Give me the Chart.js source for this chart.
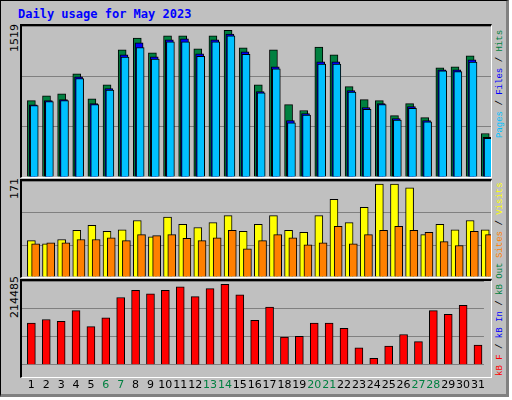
<!DOCTYPE html>
<html><head><meta charset="utf-8">
<script src="https://cdn.jsdelivr.net/npm/chart.js@4"></script>
<style>
body{margin:0;background:#fff;}
#frame{position:absolute;left:0;top:0;width:509px;height:397px;background:#c0c0c0;border:1px solid #000;border-right:3px solid #808080;border-bottom:3px solid #808080;box-sizing:border-box;}
.p{position:absolute;left:20px;width:472px;border-top:2px solid #000;border-left:2px solid #000;border-right:1px solid #fff;border-bottom:1px solid #fff;box-sizing:border-box;}
canvas{position:absolute;}
.t{position:absolute;font-family:"DejaVu Sans Mono",monospace;font-size:12px;white-space:nowrap;}
.r{position:absolute;transform-origin:0 0;transform:rotate(-90deg);font-family:"Liberation Mono",monospace;font-size:9px;line-height:10px;white-space:nowrap;}
.l{position:absolute;transform-origin:0 0;transform:rotate(-90deg);font-family:"DejaVu Sans",sans-serif;font-size:11px;line-height:12px;white-space:nowrap;}
</style></head><body>
<div id="frame"></div>
<div class="t" style="left:18px;top:7px;color:#0000ff;font-weight:bold;">Daily usage for May 2023</div>
<div class="p" style="top:24px;height:154px;"></div>
<div class="p" style="top:179px;height:99px;"></div>
<div class="p" style="top:279px;height:99px;"></div>
<canvas id="c1" style="left:22px;top:26px;width:469px;height:151px"></canvas>
<canvas id="c2" style="left:22px;top:181px;width:469px;height:96px"></canvas>
<canvas id="c3" style="left:22px;top:281px;width:469px;height:117px"></canvas>
<div class="l" style="left:9px;top:52px;">1519</div>
<div class="l" style="left:9px;top:199px;">171</div>
<div class="l" style="left:9px;top:318px;">214485</div>
<div class="r" style="left:495px;top:138px;"><span style="color:#00c0ff">Pages</span> / <span style="color:#0000ff">Files</span> / <span style="color:#008040">Hits</span></div>
<div class="r" style="left:495px;top:258px;"><span style="color:#ff8000">Sites</span> / <span style="color:#ffff00">Visits</span></div>
<div class="r" style="left:495px;top:376px;"><span style="color:#ff0000">kB F</span> / <span style="color:#0000ff">kB In</span> / <span style="color:#008040">kB Out</span></div>
<script>
const days=[1,2,3,4,5,6,7,8,9,10,11,12,13,14,15,16,17,18,19,20,21,22,23,24,25,26,27,28,29,30,31];
const weekend=[6,7,13,14,20,21,27,28];
const hits=[790,841,862,1069,810,955,1316,1439,1285,1460,1460,1326,1460,1519,1336,955,1316,749,688,1346,1264,935,801,790,635,759,615,1130,1141,1254,450];
const files=[748,790,801,1038,760,914,1264,1388,1244,1419,1429,1274,1419,1480,1295,883,1141,585,657,1192,1192,894,719,760,605,729,585,1110,1110,1213,410];
const pages=[740,780,790,1020,750,900,1240,1340,1220,1400,1400,1250,1400,1460,1270,870,1120,560,640,1170,1170,880,700,750,590,710,570,1100,1090,1190,400];
const visits=[67,61,69,86,95,84,87,104,74,110,97,91,100,113,84,97,113,86,82,113,143,100,128,171,171,164,78,97,87,104,87];
const sites=[61,63,63,69,69,72,67,78,76,78,71,67,72,86,52,67,78,72,59,63,93,61,78,86,93,86,82,65,58,84,78];
const kbytes=[111157,120551,115854,144035,101763,125248,179261,198048,188655,198048,207442,181609,202745,214485,186306,118203,153429,73583,75932,111157,111157,97066,45402,17222,50099,80629,61841,144035,134641,158126,52448];
const maxes=[1563,176.6,223100];

function pts(arr){return arr.map((v,i)=>({x:days[i],y:v}));}
function xs(id,shift,show){
  return {type:'linear',display:show||false,min:0.5-shift,max:31.5-shift,offset:false,
    grid:{display:false},border:{display:false},
    afterBuildTicks:s=>{s.ticks=days.map(d=>({value:d}));},
    ticks:{display:!!show,autoSkip:false,maxRotation:0,padding:6,
      font:{family:'DejaVu Sans',size:11},
      color:c=>weekend.includes(c.tick.value)?'#008040':'#000'}};
}
function ys(m){
  return {min:0,max:m,border:{display:false},
    afterBuildTicks:s=>{s.ticks=[0,m/3,2*m/3,m].map(v=>({value:v}));},
    ticks:{display:false},grid:{color:'#808080',drawTicks:false,lineWidth:1}};
}
function ds(data,axis,color,order,w){
  return {data:pts(data),xAxisID:axis,backgroundColor:color,borderColor:'#000',borderWidth:1,
    borderSkipped:'bottom',barThickness:w,order:order,grouped:false};
}
const common={responsive:false,animation:false,devicePixelRatio:1,
  plugins:{legend:{display:false},tooltip:{enabled:false}},layout:{padding:0}};
function mk(id,datasets,scales){
  const c=document.getElementById(id);c.width=parseInt(c.style.width);c.height=parseInt(c.style.height);
  new Chart(c,{type:'bar',data:{datasets},options:Object.assign({},common,{scales})});
}
mk('c1',[ds(hits,'xh','#008040',3,8),ds(files,'xf','#0000ff',2,8),ds(pages,'xp','#00c0ff',1,8)],
  {xh:xs('xh',0.12),xf:xs('xf',0.24),xp:xs('xp',0.31),y:ys(maxes[0])});
mk('c2',[ds(visits,'xv','#ffff00',2,8),ds(sites,'xs','#ff8000',1,8)],
  {xv:xs('xv',0.12),xs:xs('xs',0.4),y:ys(maxes[1])});
mk('c3',[ds(kbytes,'xk','#ff0000',1,8)],
  {xk:xs('xk',0.1,true),y:ys(maxes[2])});
</script>
</body></html>
